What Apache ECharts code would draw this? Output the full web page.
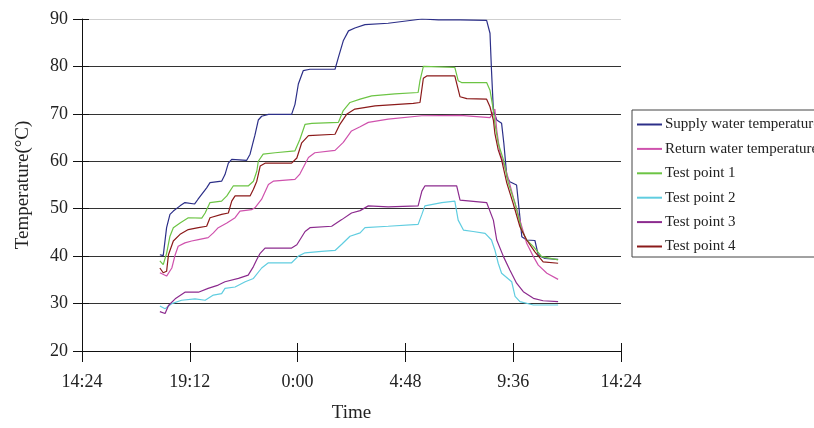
<!DOCTYPE html>
<html>
<head>
<meta charset="utf-8">
<script src="https://cdn.jsdelivr.net/npm/echarts@6/dist/echarts.min.js"></script>
<style>
html,body{margin:0;padding:0;background:#fff;}
#chart{width:814px;height:428px;}
</style>
</head>
<body>
<div id="chart"></div>
<script>
// x values: minutes after 14:24 (day 1); y values: temperature in °C
const tickLabels = ['14:24', '19:12', '0:00', '4:48', '9:36', '14:24'];
const seriesNames = ['Supply water temperature', 'Return water temperature', 'Test point 1', 'Test point 2', 'Test point 3', 'Test point 4'];

const supplyWater = [[208,40.3],[217,40.1],[226,46],[235,48.8],[244,49.5],[262,50.6],[275,51.3],[301,51],[310,52],[333,54.4],[342,55.5],[373,55.8],[382,57.2],[391,59.6],[400,60.4],[440,60.2],[449,61.5],[458,64.3],[462,65.5],[471,68.7],[480,69.5],[498,69.9],[560,69.9],[569,72],[578,76.3],[591,79.1],[609,79.4],[676,79.4],[685,81.9],[698,85.4],[712,87.5],[729,88.1],[756,88.8],[818,89.1],[908,90],[952,89.8],[1010,89.8],[1081,89.7],[1090,87],[1094,79.2],[1099,70.8],[1108,68.7],[1121,68],[1127,63.8],[1135,56.8],[1143,55.7],[1161,55],[1168,49.7],[1175,44.1],[1188,43.4],[1210,43.3],[1219,40.2],[1237,39.5],[1272,39.3]];

const returnWater = [[208,36.5],[226,35.8],[240,37.5],[249,40.3],[257,42.1],[275,42.8],[293,43.2],[311,43.5],[337,43.9],[351,44.9],[364,46],[387,47],[409,48.1],[422,49.5],[453,49.8],[462,50.2],[480,52],[498,55.1],[511,55.8],[569,56.2],[582,57.3],[605,60.8],[622,61.8],[676,62.3],[698,64],[720,66.4],[743,67.3],[765,68.2],[818,68.9],[908,69.6],[1010,69.7],[1090,69.2],[1103,71],[1108,66.6],[1117,61.7],[1135,57.5],[1152,52.5],[1170,47.6],[1188,42.7],[1206,39.9],[1219,38.1],[1242,36.4],[1272,35.1]];

const testPoint1 = [[208,39],[217,38.2],[226,40.6],[235,44.2],[244,46],[262,47],[284,48.1],[320,48],[329,49.1],[342,51.3],[373,51.6],[387,52.7],[404,54.8],[444,54.8],[458,55.8],[467,57.9],[471,60],[484,61.5],[516,61.8],[569,62.2],[582,64.6],[596,67.8],[614,68],[685,68.2],[698,70.7],[716,72.4],[743,73.1],[774,73.8],[836,74.2],[898,74.5],[903,77],[912,80],[996,79.8],[1005,77],[1014,76.6],[1081,76.6],[1090,75],[1099,70.8],[1103,68],[1112,63.8],[1126,60.3],[1139,55.4],[1157,51.1],[1175,45.5],[1188,43.4],[1206,42],[1228,39.9],[1272,39.2]];

const testPoint2 = [[208,29.5],[222,28.9],[240,30],[266,30.7],[302,31],[329,30.7],[351,31.8],[373,32.1],[382,33.2],[409,33.5],[436,34.6],[458,35.3],[480,37.5],[498,38.6],[560,38.6],[578,40],[596,40.7],[640,41],[676,41.2],[694,42.5],[716,44.2],[743,44.9],[756,46],[818,46.3],[898,46.7],[908,48.8],[916,50.6],[961,51.3],[996,51.6],[1005,47.6],[1019,45.5],[1045,45.2],[1077,44.8],[1094,43.4],[1103,41.3],[1112,38.5],[1121,36.4],[1148,34.6],[1157,31.5],[1170,30.4],[1206,29.7],[1272,29.7]];

const testPoint3 = [[208,28.3],[222,27.9],[231,29.6],[249,31],[275,32.4],[311,32.4],[337,33.2],[364,33.9],[382,34.6],[418,35.3],[444,36],[458,37.8],[467,39.3],[476,40.6],[489,41.7],[560,41.7],[574,42.4],[596,45.2],[609,46],[667,46.3],[694,47.7],[720,49.1],[743,49.6],[765,50.6],[818,50.4],[898,50.6],[908,53.7],[916,54.8],[1001,54.8],[1010,51.8],[1081,51.3],[1099,47.6],[1108,43.4],[1126,39.9],[1143,37.1],[1161,34.3],[1179,32.5],[1206,31.1],[1232,30.6],[1272,30.4]];

const testPoint4 = [[208,37.5],[217,36.5],[226,36.8],[231,40.3],[244,43.2],[262,44.6],[284,45.6],[311,46],[333,46.3],[342,48.1],[373,48.8],[391,49.1],[400,51.6],[409,52.7],[449,52.7],[458,54.1],[467,55.8],[476,59],[489,59.6],[560,59.6],[574,60.7],[587,63.9],[605,65.4],[676,65.7],[689,67.8],[707,69.9],[729,71],[783,71.7],[885,72.2],[903,72.4],[912,77.5],[921,78],[996,78],[1010,73.6],[1028,73.2],[1081,73.1],[1090,71.5],[1099,68.7],[1103,65.9],[1112,62.4],[1121,60.3],[1135,55.4],[1152,51.1],[1170,46.2],[1188,43.4],[1210,40.9],[1232,38.8],[1272,38.5]];

const seriesData = [supplyWater, returnWater, testPoint1, testPoint2, testPoint3, testPoint4];
const seriesColors = ['#2c2f88', '#cf52ad', '#6cc444', '#60cde0', '#8c2b8e', '#8b1a1a'];

const serif = '"Liberation Serif", "DejaVu Serif", serif';
const textColor = '#222';

const chart = echarts.init(document.getElementById('chart'), null, {renderer: 'canvas'});

const xCommon = {type: 'value', min: 0, max: 1440, interval: 288, position: 'bottom', gridIndex: 0};
const yCommon = {type: 'value', min: 20, max: 90, interval: 10, position: 'left', gridIndex: 0};

chart.setOption({
  animation: false,
  backgroundColor: '#fff',
  grid: {left: 82, right: 193, top: 19, bottom: 77, containLabel: false},
  legend: {
    orient: 'vertical',
    left: 632, top: 110,
    padding: [7, 60, 3, 4],
    itemWidth: 25, itemHeight: 14, itemGap: 9.4,
    borderColor: '#444', borderWidth: 1,
    itemStyle: {opacity: 0},
    textStyle: {fontFamily: serif, fontSize: 15, color: textColor, padding: [0, 0, 0, -2]},
    data: seriesNames
  },
  xAxis: [
    Object.assign({}, xCommon, {
      name: 'Time', nameLocation: 'middle', nameGap: 53,
      nameTextStyle: {fontFamily: serif, fontSize: 19, color: textColor},
      axisLine: {show: true, lineStyle: {color: '#111', width: 1}},
      axisTick: {show: true, inside: false, length: 11, lineStyle: {color: '#111'}},
      axisLabel: {show: true, margin: 22, fontFamily: serif, fontSize: 18, color: textColor,
        showMinLabel: true, showMaxLabel: true,
        formatter: function (v) { return tickLabels[Math.round(v / 288)]; }},
      splitLine: {show: false}
    }),
    Object.assign({}, xCommon, {
      axisLine: {show: false},
      axisTick: {show: true, inside: true, length: 8, lineStyle: {color: '#111'}},
      axisLabel: {show: false},
      splitLine: {show: false}
    })
  ],
  yAxis: [
    Object.assign({}, yCommon, {
      name: 'Temperature(°C)', nameLocation: 'middle', nameGap: 49, nameRotate: 90,
      nameTextStyle: {fontFamily: serif, fontSize: 19, color: textColor},
      axisLine: {show: true, lineStyle: {color: '#111', width: 1}},
      axisTick: {show: true, inside: false, length: 9, lineStyle: {color: '#111'}},
      axisLabel: {show: true, margin: 14, fontFamily: serif, fontSize: 18, color: textColor},
      splitLine: {show: true, lineStyle: {width: 1.2,
        color: ['#333', '#333', '#333', '#333', '#333', '#333', '#333', '#cfcfcf']}}
    }),
    Object.assign({}, yCommon, {
      axisLine: {show: false},
      axisTick: {show: true, inside: true, length: 7, lineStyle: {color: '#111'}},
      axisLabel: {show: false},
      splitLine: {show: false}
    })
  ],
  series: seriesNames.map(function (name, i) {
    return {
      name: name, type: 'line', xAxisIndex: 0, yAxisIndex: 0,
      data: seriesData[i], symbol: 'none', showSymbol: false,
      lineStyle: {color: seriesColors[i], width: 1.2},
      itemStyle: {color: seriesColors[i]},
      z: 3
    };
  })
});
</script>
</body>
</html>
